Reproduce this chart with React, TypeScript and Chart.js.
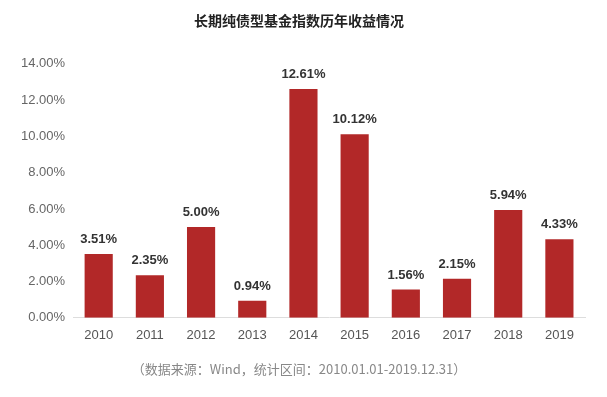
import React, { useEffect, useRef } from "react";
import { Chart, registerables } from "chart.js";

Chart.register(...registerables);

const categories = ["2010", "2011", "2012", "2013", "2014", "2015", "2016", "2017", "2018", "2019"];
const returns = [3.51, 2.35, 5.0, 0.94, 12.61, 10.12, 1.56, 2.15, 5.94, 4.33];
const titleText = "长期纯债型基金指数历年收益情况";
const footerText = "（数据来源：Wind，统计区间：2010.01.01-2019.12.31）";

const FONT = "'Noto Sans CJK SC', 'Liberation Sans', sans-serif";

const valueLabels = {
  id: "valueLabels",
  afterDatasetsDraw(chart: any) {
    const { ctx } = chart;
    const meta = chart.getDatasetMeta(0);
    ctx.save();
    ctx.font = "bold 13px 'Liberation Sans', Arial, sans-serif";
    ctx.fillStyle = "#333333";
    ctx.textAlign = "center";
    ctx.textBaseline = "bottom";
    meta.data.forEach((bar: any, i: number) => {
      ctx.fillText(returns[i].toFixed(2) + "%", bar.x, bar.y - 8);
    });
    ctx.restore();
  },
};

export default function App() {
  const ref = useRef<HTMLCanvasElement>(null);
  useEffect(() => {
    if (!ref.current) return;
    const chart = new Chart(ref.current, {
      type: "bar",
      data: {
        labels: categories,
        datasets: [
          {
            data: returns,
            backgroundColor: "#B22828",
            categoryPercentage: 1,
            barPercentage: 0.55,
          },
        ],
      },
      options: {
        animation: false,
        responsive: false,
        layout: { padding: { left: 13, right: 22, top: 10, bottom: 6 } },
        plugins: {
          legend: { display: false },
          tooltip: { enabled: false },
          title: {
            display: true,
            text: titleText,
            color: "#222222",
            font: { family: FONT, size: 14, weight: "bold" },
            padding: { top: 2, bottom: 35 },
          },
          subtitle: {
            display: true,
            text: footerText,
            position: "bottom",
            color: "#888888",
            font: { family: FONT, size: 13 },
            padding: { top: 8, bottom: 14 },
          },
        },
        scales: {
          x: {
            grid: { display: false, drawTicks: false },
            border: { color: "#dddddd" },
            ticks: {
              color: "#555555",
              font: { family: "'Liberation Sans', Arial, sans-serif", size: 13 },
              padding: 10,
            },
          },
          y: {
            min: 0,
            max: 14,
            grid: { display: false, drawTicks: false },
            border: { display: false },
            ticks: {
              stepSize: 2,
              color: "#666666",
              font: { family: "'Liberation Sans', Arial, sans-serif", size: 13 },
              padding: 8,
              callback: (v: any) => Number(v).toFixed(2) + "%",
            },
          },
        },
      },
      plugins: [valueLabels],
    });
    return () => chart.destroy();
  }, []);
  return (
    <div style={{ position: "fixed", left: 0, top: 0, width: 607, height: 397, background: "#fff" }}>
      <canvas ref={ref} width={607} height={397} />
    </div>
  );
}
